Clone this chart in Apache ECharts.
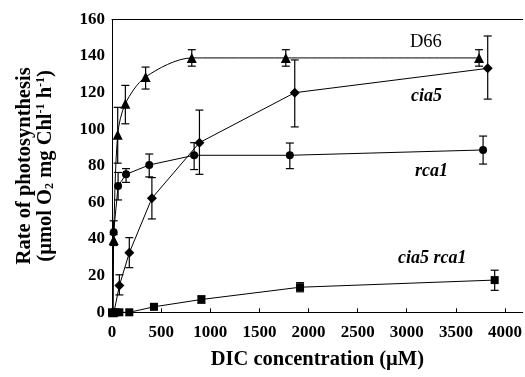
<!DOCTYPE html>
<html><head><meta charset="utf-8">
<script src="https://cdn.jsdelivr.net/npm/echarts@6/dist/echarts.min.js"></script>
<style>html,body{margin:0;padding:0;background:#fff}#c{width:525px;height:377px}</style>
</head><body><div id="c"></div>
<script>
// DIC concentration (µM) and rates for each strain
const d66X = [10, 17, 58, 136, 342, 812, 1769, 3736];
const d66Y = [0, 39.5, 97, 114, 128.6, 139, 139, 139];
const d66Lo = [null, 36.5, 81.5, 103, 122, 134.5, 134.5, 134.5];
const d66Hi = [null, 42.5, 112, 124, 134, 143.5, 143.5, 143.5];

const cia5X = [20, 75, 176, 406, 890, 1860, 3824];
const cia5Y = [0, 14.6, 32.5, 62.3, 92.7, 120, 133.3];
const cia5Lo = [null, 9.5, 24.4, 51, 75.4, 101.3, 116.5];
const cia5Hi = [null, 20.5, 40.8, 73.6, 110.5, 137.9, 151];

const rca1X = [10, 17, 62, 143, 379, 836, 1810, 3777];
const rca1Y = [0, 43.7, 69, 75.4, 80.5, 85.8, 85.8, 88.7];
const rca1Lo = [null, 37, 61.4, 71, 74, 78, 78.5, 81];
const rca1Hi = [null, 50, 76.4, 78.5, 86.5, 92.7, 92.5, 96.3];

const dblX = [0, 35, 75, 176, 427, 910, 1914, 3895];
const dblY = [0, 0, 0, 0, 3, 7, 13.7, 17.6];
const dblLo = [null, null, null, null, 1.5, 5, 11.2, 12];
const dblHi = [null, null, null, null, 4.5, 9, 16.2, 23];

const xTicks = [0, 500, 1000, 1500, 2000, 2500, 3000, 3500, 4000];
const yTicks = [0, 20, 40, 60, 80, 100, 120, 140, 160];

const FONT = "'Liberation Serif','Times New Roman',serif";

function pts(xs, ys) { return xs.map((x, i) => [x, ys[i]]); }
function errs(xs, lo, hi) {
  const out = [];
  xs.forEach((x, i) => { if (lo[i] != null) out.push([x, lo[i], hi[i]]); });
  return out;
}
function errSeries(data) {
  return {
    type: 'custom', data: data, silent: true, z: 3,
    renderItem: function (params, api) {
      const x = api.value(0);
      const top = api.coord([x, api.value(2)]);
      const bot = api.coord([x, api.value(1)]);
      const w = 4;
      const st = { stroke: '#000', lineWidth: 1.2 };
      return { type: 'group', children: [
        { type: 'line', shape: { x1: top[0], y1: top[1], x2: bot[0], y2: bot[1] }, style: st },
        { type: 'line', shape: { x1: top[0] - w, y1: top[1], x2: top[0] + w, y2: top[1] }, style: st },
        { type: 'line', shape: { x1: bot[0] - w, y1: bot[1], x2: bot[0] + w, y2: bot[1] }, style: st }
      ]};
    }
  };
}
function lineSeries(data, symbol, size, smooth) {
  return {
    type: 'line', data: data, symbol: symbol, symbolSize: size, smooth: smooth,
    showAllSymbol: true, z: 4,
    lineStyle: { color: '#000', width: 1 },
    itemStyle: { color: '#000' }
  };
}

const chart = echarts.init(document.getElementById('c'));
chart.setOption({
  animation: false,
  grid: { left: 112, right: 1, top: 19.5, bottom: 64.7 },
  xAxis: [{
    type: 'value', min: 0, max: 4180, interval: 500,
    axisLine: { lineStyle: { color: '#000', width: 1 } },
    axisTick: { inside: true, length: 4, lineStyle: { color: '#000' } },
    splitLine: { show: false },
    axisLabel: { showMaxLabel: false, margin: 12, color: '#000', fontFamily: FONT, fontWeight: 'bold', fontSize: 17,
      formatter: v => xTicks.indexOf(v) >= 0 ? String(v) : '' },
    name: 'DIC concentration (\u00b5M)', nameLocation: 'middle', nameGap: 37,
    nameTextStyle: { color: '#000', fontFamily: FONT, fontWeight: 'bold', fontSize: 20.5 }
  }, {
    type: 'value', position: 'top', min: 0, max: 4180,
    axisLine: { show: true, lineStyle: { color: '#000', width: 1 } },
    axisTick: { show: false }, axisLabel: { show: false }, splitLine: { show: false }
  }],
  yAxis: {
    type: 'value', min: 0, max: 160, interval: 20,
    axisLine: { show: true, lineStyle: { color: '#000', width: 1 } },
    axisTick: { show: false },
    splitLine: { show: false },
    axisLabel: { margin: 7, color: '#000', fontFamily: FONT, fontWeight: 'bold', fontSize: 17,
      formatter: v => yTicks.indexOf(v) >= 0 ? String(v) : '' },
    name: '{a|Rate of photosynthesis}\n{a|(\u00b5mol O}{sub|2}{a| mg Chl}{sup|-1}{a| h}{sup|-1}{a|)}',
    nameLocation: 'middle', nameGap: 56, nameRotate: 90,
    nameTextStyle: {
      color: '#000', fontFamily: FONT, fontWeight: 'bold', fontSize: 20.5, lineHeight: 21,
      rich: {
        a: { color: '#000', fontFamily: FONT, fontWeight: 'bold', fontSize: 20.5, lineHeight: 21 },
        sub: { color: '#000', fontFamily: FONT, fontWeight: 'bold', fontSize: 12, lineHeight: 21, verticalAlign: 'bottom', padding: [8, 0, 0, 0] },
        sup: { color: '#000', fontFamily: FONT, fontWeight: 'bold', fontSize: 12, lineHeight: 21, verticalAlign: 'top', padding: [0, 0, 8, 0] }
      }
    }
  },
  graphic: [
    { type: 'text', left: 410, top: 33, style: { text: 'D66', font: '18.5px ' + FONT, fill: '#000' } },
    { type: 'text', left: 411, top: 87, style: { text: 'cia5', font: 'italic bold 18px ' + FONT, fill: '#000' } },
    { type: 'text', left: 415, top: 162, style: { text: 'rca1', font: 'italic bold 18px ' + FONT, fill: '#000' } },
    { type: 'text', left: 398, top: 249, style: { text: 'cia5 rca1', font: 'italic bold 18px ' + FONT, fill: '#000' } }
  ],
  series: [
    errSeries(errs(d66X, d66Lo, d66Hi)),
    errSeries(errs(cia5X, cia5Lo, cia5Hi)),
    errSeries(errs(rca1X, rca1Lo, rca1Hi)),
    errSeries(errs(dblX, dblLo, dblHi)),
    lineSeries(pts(d66X, d66Y), 'triangle', 10, 0.3),
    lineSeries(pts(cia5X, cia5Y), 'diamond', 10, false),
    lineSeries(pts(rca1X, rca1Y), 'circle', 8, false),
    lineSeries(pts(dblX, dblY), 'rect', 8, false)
  ]
});
</script></body></html>
